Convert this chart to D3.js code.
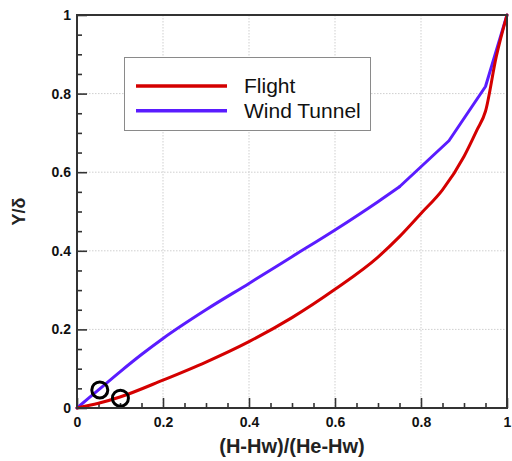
<!DOCTYPE html>
<html>
<head>
<meta charset="utf-8">
<script src="https://cdn.jsdelivr.net/npm/d3@7"></script>
<style>
  html, body { margin: 0; padding: 0; background: #fff; }
  svg { display: block; }
</style>
</head>
<body>
<svg id="chart" width="512" height="461"></svg>
<script>
// Normalized enthalpy profiles through the boundary layer
const flightX = [0, 0.05, 0.1, 0.2, 0.3, 0.4, 0.5, 0.6, 0.7, 0.75, 0.8, 0.85, 0.9, 0.93, 0.95, 0.975, 1];
const flightY = [0, 0.012, 0.028, 0.071, 0.117, 0.169, 0.23, 0.302, 0.384, 0.436, 0.495, 0.555, 0.64, 0.707, 0.755, 0.894, 1];

const tunnelX = [0, 0.05, 0.1, 0.15, 0.2, 0.3, 0.4, 0.5, 0.6, 0.7, 0.75, 0.865, 0.95, 1];
const tunnelY = [0, 0.046, 0.092, 0.136, 0.177, 0.25, 0.317, 0.385, 0.453, 0.525, 0.563, 0.68, 0.818, 1];
// the wind tunnel profile is measured at coarse stations above this height
const tunnelBreak = 0.75;

// Highlighted near-wall points
const markerX = [0.053, 0.101];
const markerY = [0.046, 0.025];

const majorTicks = [0, 0.2, 0.4, 0.6, 0.8, 1];
const majorLabels = ["0", "0.2", "0.4", "0.6", "0.8", "1"];
const minorTicks = d3.range(0, 1.0001, 0.05).filter(v => Math.abs(v * 5 - Math.round(v * 5)) > 1e-6);

const seriesNames = ["Flight", "Wind Tunnel"];
const seriesColors = ["#d40000", "#5a1cff"];

const svg = d3.select("#chart");
const plotL = 77, plotR = 507, plotT = 15, plotB = 408;

const x = d3.scaleLinear().domain([0, 1]).range([plotL, plotR]);
const y = d3.scaleLinear().domain([0, 1]).range([plotB, plotT]);

// grid
const grid = svg.append("g").attr("stroke", "#cfcfcf").attr("stroke-width", 1).attr("stroke-dasharray", "1.5,1.5");
grid.selectAll(".gx").data(majorTicks.slice(1, -1)).join("line")
  .attr("x1", d => x(d)).attr("x2", d => x(d)).attr("y1", plotT).attr("y2", plotB);
grid.selectAll(".gy").data(majorTicks.slice(1, -1)).join("line")
  .attr("y1", d => y(d)).attr("y2", d => y(d)).attr("x1", plotL).attr("x2", plotR);

// axes with inward ticks
const fmt = d => majorLabels[majorTicks.indexOf(d)];
const tickFont = "bold 14px 'Liberation Sans', Arial, Helvetica, sans-serif";

const xAxis = svg.append("g").attr("transform", `translate(0,${plotB})`)
  .call(d3.axisBottom(x).tickValues(majorTicks).tickFormat(fmt).tickSize(-10).tickPadding(9));
const xMinor = svg.append("g").attr("transform", `translate(0,${plotB})`)
  .call(d3.axisBottom(x).tickValues(minorTicks).tickFormat("").tickSize(-5));
const yAxis = svg.append("g").attr("transform", `translate(${plotL},0)`)
  .call(d3.axisLeft(y).tickValues(majorTicks).tickFormat(fmt).tickSize(-10).tickPadding(6));
const yMinor = svg.append("g").attr("transform", `translate(${plotL},0)`)
  .call(d3.axisLeft(y).tickValues(minorTicks).tickFormat("").tickSize(-5));

[xAxis, xMinor, yAxis, yMinor].forEach(g => {
  g.select(".domain").remove();
  g.selectAll(".tick line").attr("stroke", "#333").attr("stroke-width", 1.6);
  g.selectAll(".tick text").style("font", tickFont).attr("fill", "#111");
});

// curves
const line = d3.line().x(d => x(d[0])).y(d => y(d[1]));
const flightPts = flightX.map((v, i) => [v, flightY[i]]);
const tunnelPts = tunnelX.map((v, i) => [v, tunnelY[i]]);
const tunnelLow = tunnelPts.filter(d => d[0] <= tunnelBreak);
const tunnelHigh = tunnelPts.filter(d => d[0] >= tunnelBreak);

const curveStyle = (p, c) => p.attr("fill", "none").attr("stroke", c).attr("stroke-width", 3)
  .attr("stroke-linejoin", "round").attr("stroke-linecap", "round");

curveStyle(svg.append("path").datum(tunnelLow).attr("d", line.curve(d3.curveMonotoneX)), seriesColors[1]);
curveStyle(svg.append("path").datum(tunnelHigh).attr("d", line.curve(d3.curveLinear)), seriesColors[1]);
curveStyle(svg.append("path").datum(flightPts).attr("d", line.curve(d3.curveMonotoneX)), seriesColors[0]);

// circled points
svg.selectAll(".marker").data(markerX).join("circle")
  .attr("cx", d => x(d)).attr("cy", (d, i) => y(markerY[i])).attr("r", 8)
  .attr("fill", "none").attr("stroke", "#000").attr("stroke-width", 3);

// frame
svg.append("rect").attr("x", plotL).attr("y", plotT).attr("width", plotR - plotL).attr("height", plotB - plotT)
  .attr("fill", "none").attr("stroke", "#333").attr("stroke-width", 2);

// legend
const legend = svg.append("g");
legend.append("rect").attr("x", 124.5).attr("y", 57.5).attr("width", 246).attr("height", 73)
  .attr("fill", "#fff").attr("stroke", "#8a8a8a").attr("stroke-width", 1);
seriesNames.forEach((name, i) => {
  const ly = 86 + i * 24.7;
  legend.append("line").attr("x1", 136).attr("x2", 227).attr("y1", ly).attr("y2", ly)
    .attr("stroke", seriesColors[i]).attr("stroke-width", 3.5);
  legend.append("text").attr("x", 244).attr("y", ly + 7)
    .style("font", "21px 'Liberation Sans', Arial, Helvetica, sans-serif").attr("fill", "#111")
    .text(name);
});

// axis titles
svg.append("text").attr("x", (plotL + plotR) / 2).attr("y", 453).attr("text-anchor", "middle")
  .style("font", "bold 20px 'Liberation Sans', Arial, Helvetica, sans-serif").attr("fill", "#222")
  .text("(H-Hw)/(He-Hw)");
svg.append("text").attr("transform", `translate(25,${(plotT + plotB) / 2}) rotate(-90)`)
  .attr("text-anchor", "middle")
  .style("font", "bold 18px 'Liberation Sans', Arial, Helvetica, sans-serif").attr("fill", "#222")
  .text("Y/δ");
</script>
</body>
</html>
